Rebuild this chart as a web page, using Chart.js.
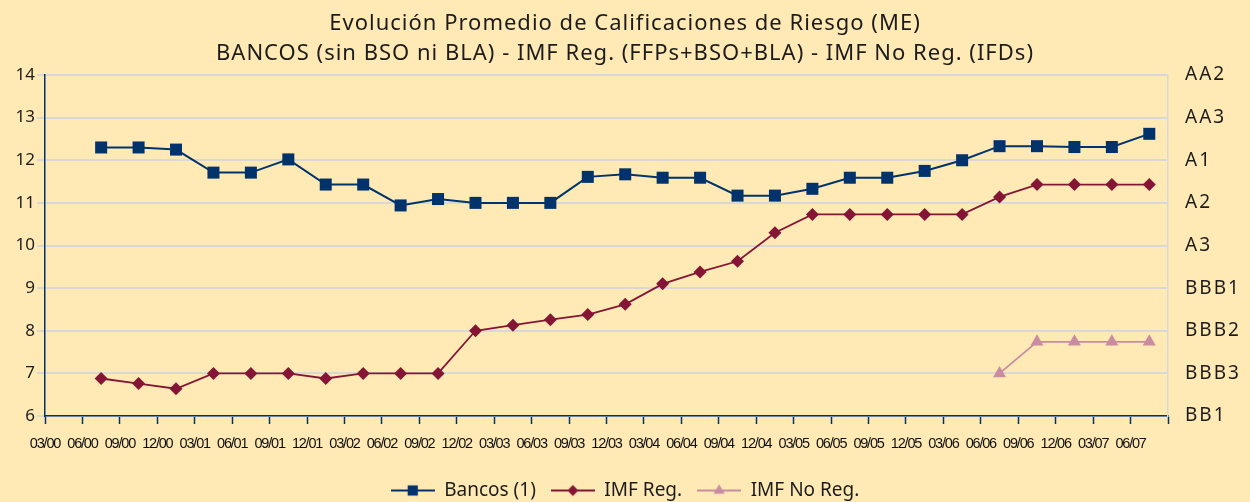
<!DOCTYPE html>
<html lang="es">
<head>
<meta charset="UTF-8">
<title>Evolución Promedio de Calificaciones de Riesgo (ME)</title>
<script src="https://cdn.jsdelivr.net/npm/chart.js@4.4.1/dist/chart.umd.min.js"></script>
<style>
  html, body { margin: 0; padding: 0; background: #FFEAB6; }
  .chart-wrapper { width: 1250px; height: 502px; }
</style>
</head>
<body>
<div class="chart-wrapper"><canvas id="lineRatings"></canvas></div>
<script>
/************  DATA  ************/
const periods = ['03/00', '06/00', '09/00', '12/00', '03/01', '06/01', '09/01', '12/01',
  '03/02', '06/02', '09/02', '12/02', '03/03', '06/03', '09/03', '12/03',
  '03/04', '06/04', '09/04', '12/04', '03/05', '06/05', '09/05', '12/05',
  '03/06', '06/06', '09/06', '12/06', '03/07', '06/07'];

// right axis: rating equivalent of 6..14
const ratingTicks = ['BB1', 'BBB3', 'BBB2', 'BBB1', 'A3', 'A2', 'A1', 'AA3', 'AA2'];

const bancos = [null, 12.30, 12.30, 12.25, 11.71, 11.71, 12.02, 11.43, 11.43, 10.94,
  11.09, 11.00, 11.00, 11.00, 11.61, 11.67, 11.59, 11.59, 11.17, 11.17,
  11.33, 11.59, 11.59, 11.75, 12.00, 12.33, 12.33, 12.31, 12.31, 12.62];

const imfReg = [null, 6.88, 6.76, 6.64, 7.00, 7.00, 7.00, 6.88, 7.00, 7.00,
  7.00, 8.00, 8.13, 8.26, 8.38, 8.62, 9.10, 9.38, 9.63, 10.30,
  10.73, 10.73, 10.73, 10.73, 10.73, 11.14, 11.43, 11.43, 11.43, 11.43];

const imfNoReg = [null, null, null, null, null, null, null, null, null, null,
  null, null, null, null, null, null, null, null, null, null,
  null, null, null, null, null, 7.00, 7.74, 7.74, 7.74, 7.74];

/************  STYLE  ************/
const NAVY = '#00336B';
const WINE = '#851535';
const PINK = '#C98CA0';
const GRID = '#D8D9D6';
const TEXT = '#1C1C1C';

// points sit in the middle of each quarter slot
const toPoints = arr => arr.map((v, i) => ({ x: i + 0.5, y: v }));

// legend icon: short line with the marker in the middle
function legendIcon(color, style, radius, lineWidth) {
  const c = document.createElement('canvas');
  c.width = 44; c.height = 18;
  const ctx = c.getContext('2d');
  ctx.strokeStyle = color;
  ctx.lineWidth = lineWidth;
  ctx.beginPath(); ctx.moveTo(0, 9); ctx.lineTo(44, 9); ctx.stroke();
  ctx.fillStyle = color;
  Chart.helpers.drawPoint(ctx, { pointStyle: style, radius: radius, borderWidth: 0, rotation: 0 }, 22, 9);
  return c;
}

// letter spacing is not a Chart.js option, so wrap the draw calls that need it
function withSpacing(obj, fn, spacing) {
  if (!obj || obj['_ls_' + fn]) return;
  const orig = obj[fn];
  obj[fn] = function (...args) {
    const ctx = this.ctx;
    ctx.save();
    ctx.letterSpacing = spacing;
    const r = orig.apply(this, args);
    ctx.restore();
    return r;
  };
  obj['_ls_' + fn] = true;
}
const spacingPlugin = {
  id: 'spacing',
  beforeDraw(chart) {
    withSpacing(chart.titleBlock, 'draw', '1px');
    withSpacing(chart.scales.rating, 'drawLabels', '2px');
    withSpacing(chart.scales.x, 'drawLabels', '-1.2px'); // fake a narrow font
  }
};

const series = [
  { label: 'Bancos (1)', data: bancos, color: NAVY, style: 'rect', radius: 8.5, width: 2 },
  { label: 'IMF Reg.', data: imfReg, color: WINE, style: 'rectRot', radius: 6.5, width: 1.8 },
  { label: 'IMF No Reg.', data: imfNoReg, color: PINK, style: 'triangle', radius: 7.5, width: 1.8 }
];

new Chart(document.getElementById('lineRatings'), {
  type: 'line',
  data: {
    datasets: series.map(s => ({
      label: s.label,
      data: toPoints(s.data),
      borderColor: s.color,
      backgroundColor: s.color,
      borderWidth: s.width,
      pointStyle: s.style,
      pointRadius: s.radius,
      pointBorderWidth: 0,
      pointHoverRadius: s.radius,
      tension: 0,
      spanGaps: false,
      yAxisID: 'y'
    }))
  },
  plugins: [spacingPlugin],
  options: {
    responsive: true,
    maintainAspectRatio: false,
    animation: false,
    layout: { padding: { left: 0, right: 0, top: 0, bottom: -8 } },
    plugins: {
      title: {
        display: true,
        text: ['Evolución Promedio de Calificaciones de Riesgo (ME)',
               'BANCOS (sin BSO ni BLA) - IMF Reg. (FFPs+BSO+BLA) - IMF No Reg. (IFDs)'],
        color: TEXT,
        font: { family: 'Noto Sans', size: 22, weight: 'normal', lineHeight: 30 / 22 },
        padding: { top: 9, bottom: 6 }
      },
      legend: {
        position: 'bottom',
        labels: {
          color: TEXT,
          font: { family: 'Noto Sans', size: 19 },
          usePointStyle: true,
          pointStyleWidth: 44,
          boxHeight: 18,
          padding: 15,
          generateLabels: chart => series.map((s, i) => ({
            text: s.label,
            fillStyle: s.color,
            strokeStyle: s.color,
            fontColor: TEXT,
            pointStyle: legendIcon(s.color, s.style, s.radius * 0.85, s.width),
            datasetIndex: i,
            hidden: false
          }))
        }
      },
      tooltip: { enabled: false }
    },
    scales: {
      x: {
        type: 'linear',
        min: 0,
        max: periods.length,
        afterFit: scale => { scale.height = 50; },
        afterBuildTicks: scale => {
          scale.ticks = periods.map((p, i) => ({ value: i })).concat([{ value: periods.length }]);
        },
        ticks: {
          autoSkip: false,
          maxRotation: 0,
          color: '#111',
          padding: 11,
          font: { family: "'Liberation Sans', Arial, sans-serif", size: 14.5 },
          callback: v => periods[v] || ''
        },
        grid: { drawOnChartArea: false, drawTicks: true, tickLength: 8, tickColor: NAVY, tickWidth: 1.5 },
        border: { color: NAVY, width: 1.5 }
      },
      y: {
        position: 'left',
        min: 6,
        max: 14,
        afterFit: scale => { scale.width = 45; },
        ticks: {
          stepSize: 1,
          color: TEXT,
          padding: 2,
          font: { family: 'Noto Sans', size: 17 }
        },
        grid: { color: GRID, lineWidth: 2, tickLength: 8, tickColor: GRID },
        border: { color: NAVY, width: 1.5 }
      },
      rating: {
        position: 'right',
        min: 6,
        max: 14,
        afterFit: scale => { scale.width = 82; },
        ticks: {
          stepSize: 1,
          color: TEXT,
          padding: 17,
          crossAlign: 'near',
          font: { family: 'Noto Sans', size: 19 },
          callback: v => ratingTicks[v - 6]
        },
        grid: { drawOnChartArea: false, drawTicks: false },
        border: { color: GRID, width: 1.5 }
      }
    }
  }
});
</script>
</body>
</html>
